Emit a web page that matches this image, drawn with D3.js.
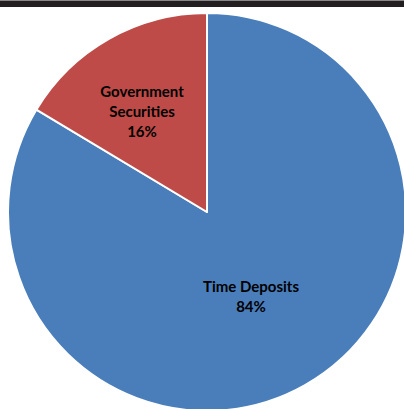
<!DOCTYPE html>
<html><head><meta charset="utf-8">
<script src="https://cdn.jsdelivr.net/npm/d3@7"></script>
<style>html,body{margin:0;padding:0;background:#fff;overflow:hidden}</style>
</head><body>
<svg id="c" width="404" height="409"></svg>
<script>
const categories = ["Time Deposits", "Government Securities"];
const values = [83.6, 16.4];
const pctLabels = ["84%", "16%"];
const colors = ["#4a7ebb", "#be4b48"];

const svg = d3.select("#c");
svg.append("rect").attr("x",0).attr("y",0).attr("width",404).attr("height",1).attr("fill","#888");
svg.append("rect").attr("x",0).attr("y",1).attr("width",404).attr("height",6).attr("fill","#231f20");

const cx = 207, cy = 212, r = 199;
const g = svg.append("g").attr("transform",`translate(${cx},${cy})`);
const pie = d3.pie().sort(null).value(d => d.v);
const data = categories.map((c,i)=>({c, v: values[i], p: pctLabels[i], col: colors[i]}));
const arcs = pie(data);
const arc = d3.arc().innerRadius(0).outerRadius(r);
g.selectAll("path").data(arcs).join("path")
  .attr("d", arc).attr("fill", d => d.data.col)
  .attr("stroke","#fff").attr("stroke-width",2).attr("stroke-linejoin","round");

const labelPos = [{x: 251-cx, y: 287-cy}, {x: 142-cx, y: 92-cy}];
const lines = [["Time Deposits","84%"],["Government","Securities","16%"]];
arcs.forEach((a,i)=>{
  const lp = labelPos[i];
  const ls = i===0 ? [a.data.c, a.data.p] : ["Government","Securities", a.data.p];
  const t = g.append("text").attr("text-anchor","middle")
    .attr("font-family","Lato, 'Open Sans', sans-serif").attr("font-weight","bold")
    .attr("font-size",15).attr("fill","#000");
  ls.forEach((s,k)=>{
    t.append("tspan").attr("x",lp.x).attr("y",lp.y + k*20 + 5).text(s);
  });
});
</script>
</body></html>
